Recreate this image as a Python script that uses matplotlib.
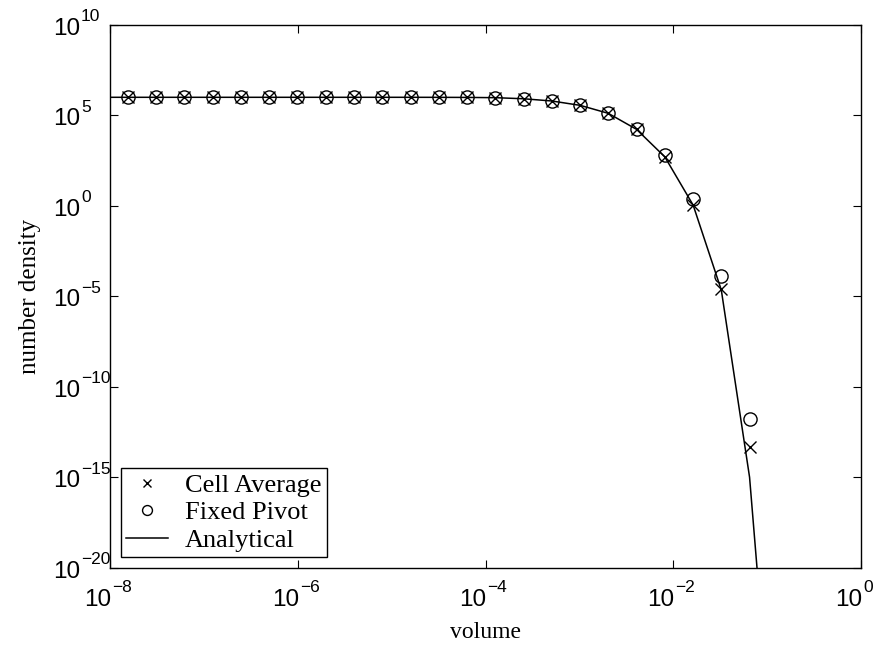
import matplotlib
matplotlib.use('Agg')
import matplotlib.pyplot as plt

# volume grid (geometric, ratio 2) used by both numerical schemes
volume = [1.55e-8, 3.1e-8, 6.2e-8, 1.24e-7, 2.48e-7, 4.96e-7, 9.92e-7,
          1.98e-6, 3.97e-6, 7.94e-6, 1.59e-5, 3.17e-5, 6.35e-5, 1.27e-4,
          2.54e-4, 5.08e-4, 1.02e-3, 2.03e-3, 4.06e-3, 8.13e-3, 1.63e-2,
          3.25e-2, 6.50e-2]

cell_average = [9.75e5, 9.75e5, 9.75e5, 9.75e5, 9.75e5, 9.75e5, 9.75e5,
                9.75e5, 9.75e5, 9.75e5, 9.75e5, 9.7e5, 9.6e5, 9.3e5,
                8.1e5, 6.1e5, 3.5e5, 1.27e5, 1.66e4, 4.9e2, 1.09,
                2.4e-5, 4.5e-14]

fixed_pivot = [9.75e5, 9.75e5, 9.75e5, 9.75e5, 9.75e5, 9.75e5, 9.75e5,
               9.75e5, 9.75e5, 9.75e5, 9.75e5, 9.7e5, 9.6e5, 9.3e5,
               8.1e5, 6.1e5, 3.5e5, 1.27e5, 1.66e4, 6.3e2, 2.44,
               1.3e-4, 1.6e-12]

analytic_volume = [7.75e-9, 1.55e-8, 3.1e-8, 6.2e-8, 1.24e-7, 2.48e-7, 4.96e-7,
                   9.92e-7, 1.98e-6, 3.97e-6, 7.94e-6, 1.59e-5, 3.17e-5, 6.35e-5,
                   1.27e-4, 2.54e-4, 5.08e-4, 1.02e-3, 2.03e-3, 4.06e-3, 8.13e-3,
                   1.63e-2, 3.25e-2, 6.50e-2, 1.30e-1]
analytical = [9.75e5, 9.75e5, 9.75e5, 9.75e5, 9.75e5, 9.75e5, 9.75e5,
              9.75e5, 9.75e5, 9.75e5, 9.75e5, 9.75e5, 9.7e5, 9.6e5,
              9.3e5, 8.1e5, 6.1e5, 3.5e5, 1.27e5, 1.66e4, 5.0e2,
              1.07, 2.2e-5, 1.0e-15, 1.0e-34]

x_exponents = [-8, -6, -4, -2, 0]
y_exponents = [-20, -15, -10, -5, 0, 5, 10]

sans = ['Liberation Sans', 'DejaVu Sans']
serif = ['Liberation Serif', 'DejaVu Serif']
plt.rcParams['font.family'] = sans

fig = plt.figure(figsize=(8.84, 6.49), dpi=100)
ax = fig.add_axes([110 / 884, 1 - 567.7 / 649, 751 / 884, 543 / 649])

ax.loglog(volume, cell_average, 'x', color='k', ms=8, mew=1.0,
          label='Cell Average')
ax.loglog(volume, fixed_pivot, 'o', color='k', mfc='none', ms=9.5, mew=1.0,
          label='Fixed Pivot')
ax.loglog(analytic_volume, analytical, '-', color='k', lw=1.1,
          label='Analytical')

ax.set_xlim(1e-8, 1e0)
ax.set_ylim(1e-20, 1e10)
ax.set_xticks([10.0 ** e for e in x_exponents])
ax.set_yticks([10.0 ** e for e in y_exponents])
ax.set_xticklabels([])
ax.set_yticklabels([])
ax.minorticks_off()
ax.tick_params(direction='in', length=5.5, width=0.8, top=True, right=True)
for s in ax.spines.values():
    s.set_linewidth(1.0)


def exp_text(e):
    return str(e).replace('-', '\u2212')


# MATLAB-style log labels: "10" with the exponent hanging to its right
for e in y_exponents:
    ax.annotate('10', xy=(0, 10.0 ** e), xycoords=('axes fraction', 'data'),
                xytext=(-30, -4), textcoords='offset pixels',
                ha='right', va='center', fontsize=17.5)
    ax.annotate(exp_text(e), xy=(0, 10.0 ** e), xycoords=('axes fraction', 'data'),
                xytext=(-29, 8), textcoords='offset pixels',
                ha='left', va='center', fontsize=12.5)
for e in x_exponents:
    ax.annotate('10', xy=(10.0 ** e, 0), xycoords=('data', 'axes fraction'),
                xytext=(1, -32), textcoords='offset pixels',
                ha='right', va='center', fontsize=17.5)
    ax.annotate(exp_text(e), xy=(10.0 ** e, 0), xycoords=('data', 'axes fraction'),
                xytext=(2, -20), textcoords='offset pixels',
                ha='left', va='center', fontsize=12.5)

ax.set_xlabel('volume', family=serif, fontsize=17)
ax.set_ylabel('number density', family=serif, fontsize=18)
ax.xaxis.set_label_coords(0.5, (567.7 - 622) / 543)
ax.yaxis.set_label_coords((41 - 110) / 751, 0.5)

leg = ax.legend(loc='lower left', prop={'family': serif, 'size': 19},
                fancybox=False, edgecolor='k', framealpha=1,
                borderaxespad=0.4, borderpad=0.2, labelspacing=0.15,
                handlelength=1.6, handletextpad=0.65, markerscale=0.75)
leg.get_frame().set_linewidth(1.0)

fig.savefig('out.png', dpi=100)
